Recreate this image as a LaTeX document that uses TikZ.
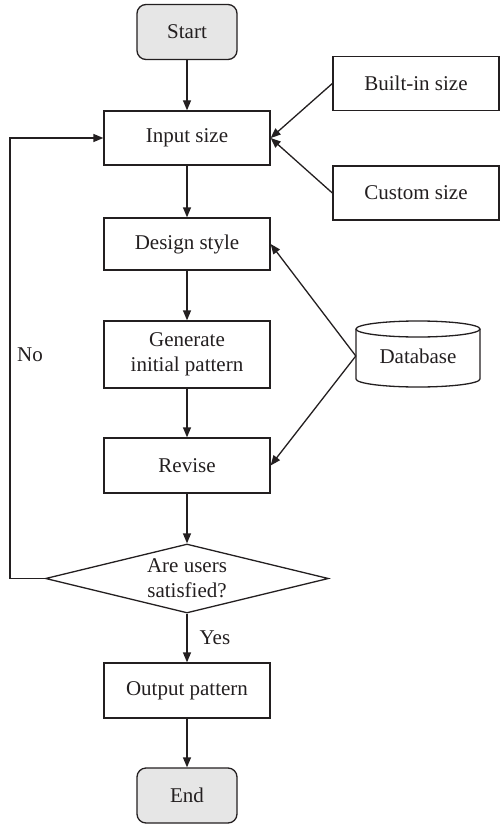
\documentclass[tikz,border=0pt]{standalone}
\usepackage{fontspec}
\setmainfont{Liberation Serif}
\usetikzlibrary{arrows.meta,shapes.geometric}
\definecolor{termfill}{RGB}{230,230,230}
\definecolor{ink}{RGB}{35,31,32}
\tikzset{
  base/.style={draw=ink, line width=1.3pt, text=ink, font=\fontsize{21}{25}\selectfont, align=center, inner sep=0pt},
  proc/.style={base, rectangle, minimum width=166pt, minimum height=54pt},
  term/.style={base, rounded corners=9pt, fill=termfill, minimum width=100pt, minimum height=55pt},
  side/.style={base, rectangle, minimum width=166pt, minimum height=54pt},
  decis/.style={base, diamond, minimum width=283pt, minimum height=69pt, aspect=4.1},
  conn/.style={draw=ink, line width=1.3pt, -{Triangle[length=10pt,width=8pt]}},
  lbl/.style={text=ink, font=\fontsize{21}{25}\selectfont, inner sep=0pt}
}
\begin{document}
\begin{tikzpicture}[x=1pt,y=-1pt]
\useasboundingbox (0,0) rectangle (499,824);
\node[term] (start) at (187,32) {Start};
\node[proc] (input) at (187,138) {Input size};
\node[side] (builtin) at (416,83.5) {Built-in size};
\node[side] (custom) at (416,193) {Custom size};
\node[proc, minimum height=52pt] (design) at (187,244) {Design style};
\node[proc, minimum height=67pt] (gen) at (187,354.5) {Generate\\initial pattern};
\node[proc, minimum height=55pt] (revise) at (187,465.5) {Revise};
\node[decis] (dec) at (187,578.5) {Are users\\satisfied?};
\node[proc, minimum height=55pt] (out) at (187,690.5) {Output pattern};
\node[term] (endn) at (187,795.5) {End};
% database cylinder
\node[lbl, minimum width=124pt, minimum height=66pt] (db) at (418,356) {Database};
\draw[draw=ink, line width=1.3pt] (418,329) ellipse (62 and 8);
\draw[draw=ink, line width=1.3pt] (356,329) -- (356,379) arc (180:0:62 and 8) -- (480,329);
% connectors
\draw[conn] (start) -- (input);
\draw[conn] (input) -- (design);
\draw[conn] (design) -- (gen);
\draw[conn] (gen) -- (revise);
\draw[conn] (revise) -- (dec.north);
\draw[conn] (dec.south) -- node[lbl, right=12pt, pos=0.5] {Yes} (out);
\draw[conn] (out) -- (endn);
\draw[conn] (builtin.west) -- (input.east);
\draw[conn] (custom.west) -- (input.east);
\draw[conn] (db.west) -- (design.east);
\draw[conn] (db.west) -- (revise.east);
\coordinate (lb) at (10,578.5);
\coordinate (lt) at (10,138);
\draw[conn] (dec.west) -- (lb) -- (lt) -- (input.west);
\node[lbl] (no) at (30,355) {No};
\end{tikzpicture}
\end{document}
